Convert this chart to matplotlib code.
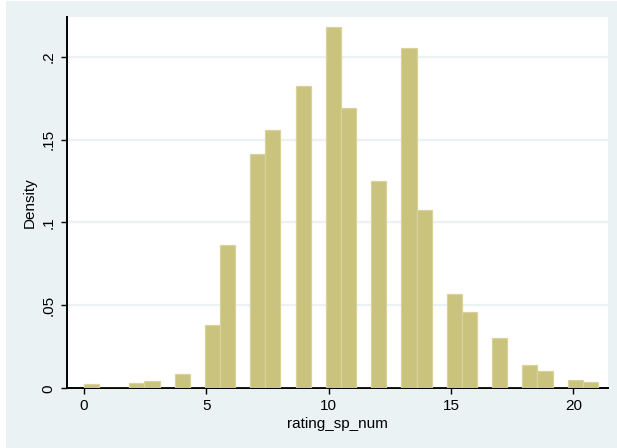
import numpy as np
import matplotlib
matplotlib.use("Agg")
import matplotlib.pyplot as plt
from matplotlib.patches import Rectangle

# ---- data ----
bin_lo = 0.0
bin_hi = 21.0
n_bins = 34
density = [0.0024, 0.0, 0.0, 0.0033, 0.0045, 0.0, 0.0087, 0.0, 0.0381, 0.0864,
           0.0, 0.1411, 0.1557, 0.0, 0.1826, 0.0, 0.2178, 0.1690, 0.0, 0.1248,
           0.0, 0.2055, 0.1073, 0.0, 0.0567, 0.0459, 0.0, 0.0302, 0.0, 0.0140,
           0.0105, 0.0, 0.0051, 0.0039]
x_ticks = [0, 5, 10, 15, 20]
x_ticklabels = ["0", "5", "10", "15", "20"]
y_ticks = [0, 0.05, 0.1, 0.15, 0.2]
y_ticklabels = ["0", ".05", ".1", ".15", ".2"]
x_label = "rating_sp_num"
y_label = "Density"

edges = np.linspace(bin_lo, bin_hi, n_bins + 1)

plt.rcParams['font.family'] = ['Liberation Sans', 'DejaVu Sans']

W, H = 617, 448
fig = plt.figure(figsize=(W / 100, H / 100), dpi=100, facecolor='white')
bg = '#EAF2F3'
fig.patches.append(Rectangle((6 / W, 0), 1 - 6 / W, 1 - 1.5 / H,
                             transform=fig.transFigure, facecolor=bg,
                             edgecolor='none', zorder=-10))

ax = fig.add_axes([67 / W, (H - 388.3) / H, (608 - 67) / W, (388.3 - 16.7) / H])
ax.set_facecolor('white')

ax.bar(edges[:-1], density, width=np.diff(edges), align='edge',
       color='#CAC37D', edgecolor='#D9D29D', linewidth=0.9, zorder=3)

ax.set_xlim((67 - 84) / 24.47, (608 - 84) / 24.47)
ax.set_ylim(0, (388.3 - 16.7) / 1658)

for y in y_ticks[1:]:
    ax.axhline(y, color='#EAF2F3', linewidth=1.6, zorder=1)

for s in ['top', 'right']:
    ax.spines[s].set_visible(False)
for s in ['left', 'bottom']:
    ax.spines[s].set_color('black')
    ax.spines[s].set_linewidth(1.4)

ax.set_xticks(x_ticks)
ax.set_xticklabels(x_ticklabels)
ax.set_yticks(y_ticks)
ax.set_yticklabels(y_ticklabels, rotation=90, va='center')
ax.tick_params(axis='both', direction='out', length=4.5, width=1.0,
               color='black', labelsize=11, labelcolor='black')
ax.tick_params(axis='x', pad=3)
ax.tick_params(axis='y', pad=4)

ax.set_xlabel(x_label, fontsize=11, labelpad=3)
ax.set_ylabel(y_label, fontsize=11, labelpad=3)

fig.savefig('out.png', dpi=100, facecolor='white')
